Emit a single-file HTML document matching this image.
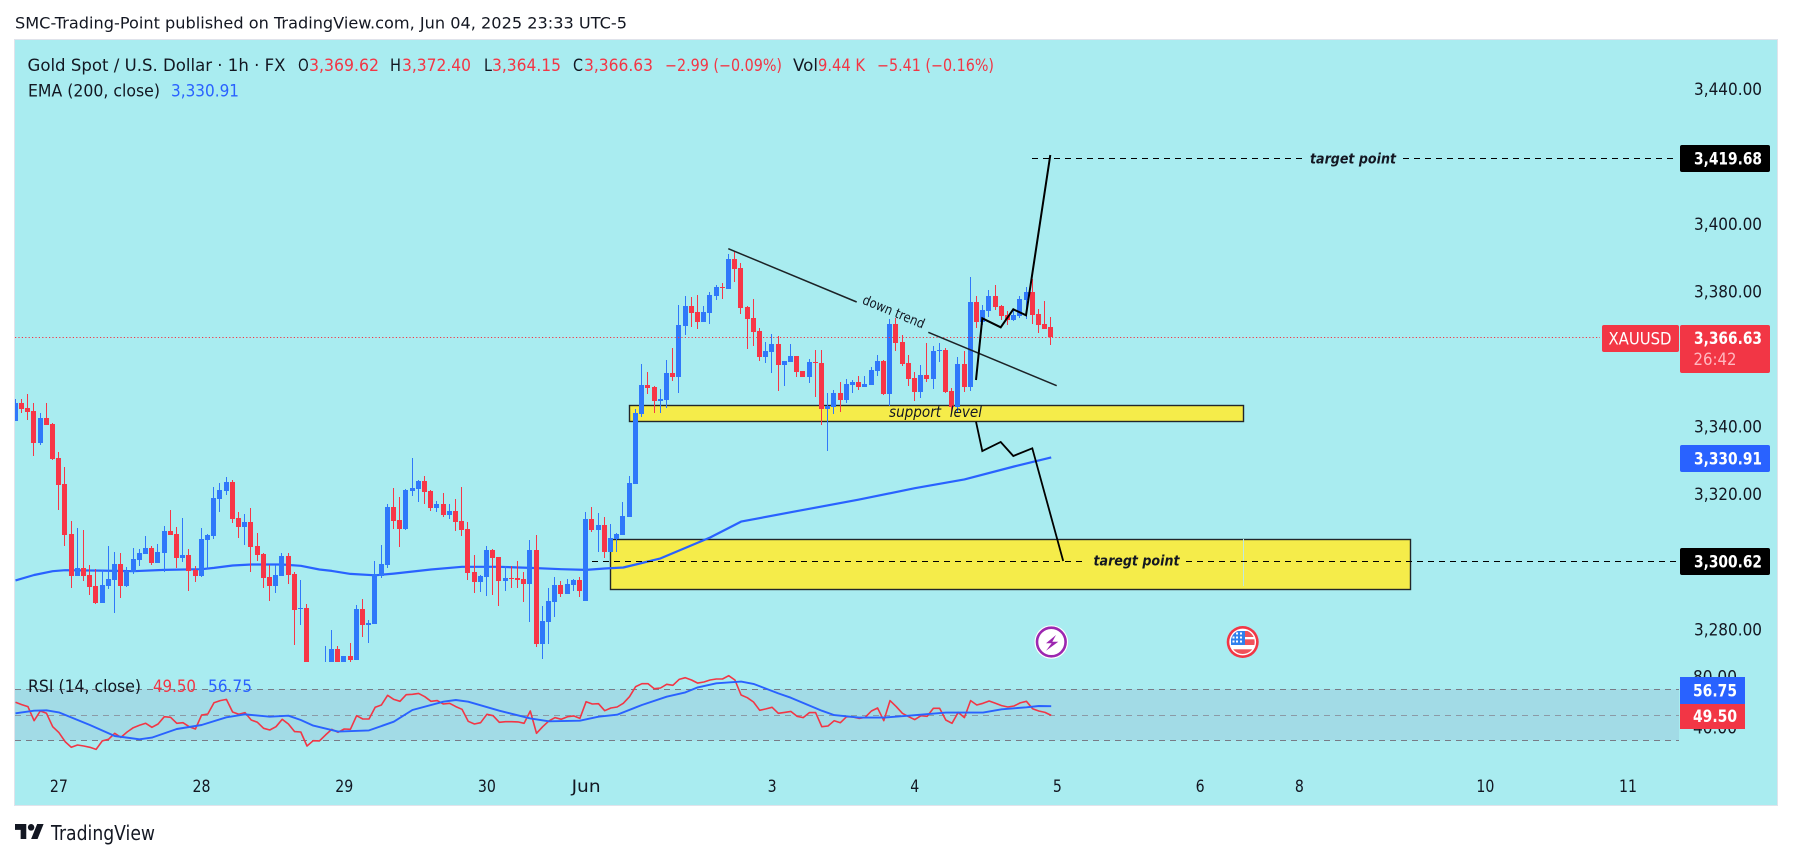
<!DOCTYPE html>
<html lang="en">
<head>
<meta charset="utf-8">
<title>XAUUSD 1h chart</title>
<style>
html,body{margin:0;padding:0;background:#fff;width:1793px;height:859px;overflow:hidden}
svg{display:block}
text{font-family:"DejaVu Sans","Liberation Sans",sans-serif;fill:#131722}
</style>
</head>
<body>
<svg id="root" width="1793" height="859" viewBox="0 0 1793 859">
  <defs>
    <clipPath id="mainClip"><rect x="15" y="40" width="1662" height="622"/></clipPath>
    <clipPath id="rsiClip"><rect x="15" y="662" width="1662" height="143"/></clipPath>
    <clipPath id="flagClip"><circle cx="1242.7" cy="642" r="12"/></clipPath>
  </defs>
  <rect x="0" y="0" width="1793" height="859" fill="#ffffff"/>
  <text x="15" y="28.5" font-size="16" textLength="612" lengthAdjust="spacingAndGlyphs">SMC-Trading-Point published on TradingView.com, Jun 04, 2025 23:33 UTC-5</text>
  <rect x="14.5" y="39.5" width="1763" height="766" fill="#a9ecf0" stroke="#e0e3eb" stroke-width="1"/>

  <rect x="15" y="689.3" width="1664" height="51" fill="#a2dbe6"/>
  <line x1="15" x2="1679" y1="689.5" y2="689.5" stroke="#787b86" stroke-dasharray="6 5"/>
  <line x1="15" x2="1679" y1="715.5" y2="715.5" stroke="#8b9aa6" stroke-dasharray="6 5"/>
  <line x1="15" x2="1679" y1="740.5" y2="740.5" stroke="#787b86" stroke-dasharray="6 5"/>

  <rect x="629.5" y="405.5" width="614" height="16" fill="#f5ec4a" stroke="#22262a" stroke-width="1.4"/>
  <rect x="610.5" y="539.5" width="800" height="50" fill="#f5ec4a" stroke="#22262a" stroke-width="1.4"/>
  <line x1="1243.5" x2="1243.5" y1="539" y2="586" stroke="#bfe9e0" stroke-width="1"/>

  <g id="emaLayer" clip-path="url(#mainClip)"></g>
  <g id="candleLayer" clip-path="url(#mainClip)"></g>
  <g id="priceLineLayer"></g>

  <g>
    <line x1="728.3" y1="248.7" x2="856.7" y2="302" stroke="#1c2226" stroke-width="1.5"/>
    <line x1="928.3" y1="332.3" x2="1056.7" y2="385.7" stroke="#1c2226" stroke-width="1.5"/>
    <text transform="translate(892,316) rotate(22.6)" text-anchor="middle" font-size="13.5" textLength="66" lengthAdjust="spacingAndGlyphs">down trend</text>
    <polyline points="976,380 982.3,318.3 1000.7,327.3 1013.3,309.3 1026,315.3 1050.3,155" fill="none" stroke="#000" stroke-width="2"/>
    <polyline points="976,421.7 982.3,451 1000.7,442 1013.3,456 1032.3,448.3 1063.2,561" fill="none" stroke="#000" stroke-width="1.8"/>
    <line x1="1032" x2="1302" y1="158.5" y2="158.5" stroke="#000" stroke-dasharray="6 5"/>
    <text x="1310" y="163.5" font-size="14.5" font-style="italic" font-weight="bold" textLength="86" lengthAdjust="spacingAndGlyphs">target point</text>
    <line x1="1403" x2="1675" y1="158.5" y2="158.5" stroke="#000" stroke-dasharray="6 5"/>
    <line x1="592" x2="1087" y1="561.5" y2="561.5" stroke="#000" stroke-dasharray="6 5"/>
    <text x="1093.5" y="565.5" font-size="14.5" font-style="italic" font-weight="bold" textLength="86" lengthAdjust="spacingAndGlyphs">taregt point</text>
    <line x1="1186" x2="1677" y1="561.5" y2="561.5" stroke="#000" stroke-dasharray="6 5"/>
    <text x="889" y="417" font-size="15" font-style="italic" textLength="93" lengthAdjust="spacingAndGlyphs" xml:space="preserve">support  level</text>
  </g>

  <g>
    <circle cx="1051.3" cy="642" r="16.8" fill="#ffffff"/>
    <circle cx="1051.3" cy="642" r="14.3" fill="#fff" stroke="#9c27b0" stroke-width="2.6"/>
    <polygon points="1056,635 1046,643.3 1051.6,643.3 1046,650.7 1058.3,641.7 1052.3,641.7" fill="#9c27b0"/>
  </g>
  <g>
    <circle cx="1242.7" cy="642" r="16" fill="#f23645"/>
    <circle cx="1242.7" cy="642" r="13.4" fill="#fff"/>
    <g clip-path="url(#flagClip)">
      <rect x="1231" y="631" width="24" height="6" fill="#f0525a"/>
      <rect x="1231" y="639.3" width="24" height="5.7" fill="#f0525a"/>
      <rect x="1231" y="649.3" width="24" height="5" fill="#f0525a"/>
      <rect x="1231" y="631" width="14" height="14" fill="#2f80ed"/>
      <rect x="1236" y="632.5" width="2" height="2" fill="#fff"/><rect x="1240" y="632.5" width="2" height="2" fill="#fff"/>
      <rect x="1232.5" y="636.5" width="2" height="2" fill="#fff"/><rect x="1236" y="636.5" width="2" height="2" fill="#fff"/>
      <rect x="1240" y="636.5" width="2" height="2" fill="#fff"/><rect x="1232.5" y="640.5" width="2" height="2" fill="#fff"/>
      <rect x="1236" y="640.5" width="2" height="2" fill="#fff"/><rect x="1240" y="640.5" width="2" height="2" fill="#fff"/>
    </g>
  </g>

  <g id="rsiLayer" clip-path="url(#rsiClip)"></g>
  <g id="yAxisLayer"></g>
  <g id="xAxisLayer"></g>

  <g>
    <text x="27.5" y="71" font-size="16.5" textLength="258" lengthAdjust="spacingAndGlyphs">Gold Spot / U.S. Dollar · 1h · FX</text>
    <text x="298" y="71" font-size="16.5" textLength="10.8" lengthAdjust="spacingAndGlyphs">O</text>
    <text x="309" y="71" font-size="16.5" textLength="70" lengthAdjust="spacingAndGlyphs" style="fill:#f23645">3,369.62</text>
    <text x="390" y="71" font-size="16.5" textLength="11" lengthAdjust="spacingAndGlyphs">H</text>
    <text x="402" y="71" font-size="16.5" textLength="69" lengthAdjust="spacingAndGlyphs" style="fill:#f23645">3,372.40</text>
    <text x="484" y="71" font-size="16.5" textLength="8" lengthAdjust="spacingAndGlyphs">L</text>
    <text x="492" y="71" font-size="16.5" textLength="69" lengthAdjust="spacingAndGlyphs" style="fill:#f23645">3,364.15</text>
    <text x="573" y="71" font-size="16.5" textLength="10" lengthAdjust="spacingAndGlyphs">C</text>
    <text x="584" y="71" font-size="16.5" textLength="69" lengthAdjust="spacingAndGlyphs" style="fill:#f23645">3,366.63</text>
    <text x="665" y="71" font-size="16.5" textLength="117" lengthAdjust="spacingAndGlyphs" style="fill:#f23645">−2.99 (−0.09%)</text>
    <text x="793" y="71" font-size="16.5" textLength="25" lengthAdjust="spacingAndGlyphs">Vol</text>
    <text x="818" y="71" font-size="16.5" textLength="47" lengthAdjust="spacingAndGlyphs" style="fill:#f23645">9.44 K</text>
    <text x="877" y="71" font-size="16.5" textLength="117" lengthAdjust="spacingAndGlyphs" style="fill:#f23645">−5.41 (−0.16%)</text>
    <text x="28" y="96.5" font-size="16.5" textLength="132" lengthAdjust="spacingAndGlyphs">EMA (200, close)</text>
    <text x="171" y="96.5" font-size="16.5" textLength="68" lengthAdjust="spacingAndGlyphs" style="fill:#2962ff">3,330.91</text>
    <text x="28" y="692" font-size="16.5" textLength="113" lengthAdjust="spacingAndGlyphs">RSI (14, close)</text>
    <text x="153" y="692" font-size="16.5" textLength="43" lengthAdjust="spacingAndGlyphs" style="fill:#f23645">49.50</text>
    <text x="208" y="692" font-size="16.5" textLength="44" lengthAdjust="spacingAndGlyphs" style="fill:#2962ff">56.75</text>
  </g>

  <g>
    <rect x="1680" y="145" width="90" height="27" rx="2" fill="#000"/>
    <text x="1694" y="164.3" font-size="16.5" font-weight="600" textLength="68" lengthAdjust="spacingAndGlyphs" style="fill:#fff">3,419.68</text>
    <rect x="1602" y="325" width="77" height="27" rx="2" fill="#f23645"/>
    <text x="1608.5" y="344.3" font-size="16.5" textLength="63" lengthAdjust="spacingAndGlyphs" style="fill:#fff">XAUUSD</text>
    <rect x="1680" y="325" width="90" height="48" rx="2" fill="#f23645"/>
    <text x="1694" y="343.8" font-size="16.5" font-weight="600" textLength="68" lengthAdjust="spacingAndGlyphs" style="fill:#fff">3,366.63</text>
    <text x="1693.5" y="365" font-size="16.5" textLength="43" lengthAdjust="spacingAndGlyphs" style="fill:#ffb8c0">26:42</text>
    <rect x="1680" y="445" width="90" height="27" rx="2" fill="#2962ff"/>
    <text x="1694" y="464.3" font-size="16.5" font-weight="600" textLength="68" lengthAdjust="spacingAndGlyphs" style="fill:#fff">3,330.91</text>
    <rect x="1680" y="548" width="90" height="27" rx="2" fill="#000"/>
    <text x="1694" y="567.3" font-size="16.5" font-weight="600" textLength="68" lengthAdjust="spacingAndGlyphs" style="fill:#fff">3,300.62</text>
    <rect x="1680" y="677" width="65" height="27" fill="#2962ff"/>
    <text x="1693" y="696.3" font-size="16.5" font-weight="600" textLength="44" lengthAdjust="spacingAndGlyphs" style="fill:#fff">56.75</text>
    <rect x="1680" y="704" width="65" height="25" fill="#f23645"/>
    <text x="1693" y="721.8" font-size="16.5" font-weight="600" textLength="44" lengthAdjust="spacingAndGlyphs" style="fill:#fff">49.50</text>
  </g>

  <g>
    <svg x="15" y="824" width="29" height="15" viewBox="0 4 36 18" preserveAspectRatio="none">
      <path d="M14 22H7V11H0V4h14v18zM28 22h-8l7.5-18h8L28 22z" fill="#131722"/>
      <circle cx="20" cy="8" r="4" fill="#131722"/>
    </svg>
    <text x="51" y="840" font-size="20.5" textLength="104" lengthAdjust="spacingAndGlyphs">TradingView</text>
  </g>
</svg>

<script>
const opens = [3341.7,3347.0,3345.5,3344.6,3335.1,3342.5,3340.8,3330.7,3323.0,3308.2,
3295.8,3298.1,3296.1,3292.8,3287.8,3292.8,3294.6,3299.3,3292.8,3297.0,
3300.5,3302.3,3304.1,3299.6,3302.6,3309.1,3308.2,3301.1,3302.0,3297.5,
3295.8,3306.4,3307.6,3318.6,3320.9,3323.6,3313.0,3310.3,3311.8,3304.6,
3302.3,3295.5,3292.8,3295.8,3301.7,3296.4,3286.0,3286.3,3265,3258,
3260,3266,3274.2,3268,3272.1,3270.9,3286.0,3281.3,3281.6,3295.8,
3299.0,3316.2,3312.3,3309.7,3320.9,3321.5,3323.9,3320.9,3315.9,3317.1,
3313.8,3315.0,3312.0,3309.7,3297.0,3294.0,3295.5,3303.5,3301.4,3294.3,
3295.2,3295.2,3294.9,3293.4,3303.5,3275.6,3282.1,3288.1,3293.1,3290.4,
3293.1,3294.6,3288.4,3312.6,3309.4,3310.9,3302.9,3306.7,3307.9,3313.2,
3323.0,3343.7,3352.3,3351.7,3347.6,3347.9,3355.9,3354.7,3369.8,3375.7,
3373.9,3371.0,3373.6,3378.7,3381.3,3380.7,3389.6,3387.0,3375.4,3372.1,
3368.3,3360.6,3362.1,3364.4,3358.2,3359.1,3360.9,3356.5,3354.7,3359.1,
3358.8,3345.2,3345.8,3349.9,3347.9,3352.3,3353.2,3351.7,3352.3,3356.5,
3359.4,3349.6,3370.4,3365.1,3358.9,3354.4,3350.3,3355.3,3354.1,3362.6,
3362.7,3350.6,3345.9,3358.6,3351.8,3376.9,3371.0,3374.3,3378.7,3375.8,
3373.1,3371.6,3372.8,3377.5,3379.9,3373.4,3370.4,3369.62];
const highs = [3348.2,3348.2,3349.7,3347.0,3344.0,3347.0,3341.1,3332.5,3328.0,3312.0,
3310.0,3309.4,3299.0,3297.8,3297.5,3304.6,3302.9,3302.6,3298.4,3304.1,
3303.8,3307.6,3304.6,3305.2,3310.6,3315.3,3310.3,3312.9,3303.8,3298.7,
3310.0,3308.2,3322.1,3323.3,3325.1,3324.2,3314.7,3314.1,3315.9,3308.5,
3302.6,3299.0,3299.0,3302.6,3302.6,3297.0,3294.6,3287.5,3266,3266,
3275.0,3279.8,3275.0,3272.1,3275.9,3287.2,3289.0,3282.7,3300.2,3304.9,
3317.1,3321.8,3319.2,3321.5,3330.7,3324.2,3325.4,3321.2,3318.0,3320.3,
3317.1,3318.6,3322.1,3311.8,3302.0,3296.1,3304.6,3303.8,3301.4,3298.7,
3298.7,3300.2,3297.0,3306.4,3307.9,3286.9,3292.2,3295.5,3294.3,3294.9,
3294.9,3295.5,3314.7,3316.2,3314.4,3313.2,3311.2,3308.5,3317.7,3325.4,
3345.2,3358.5,3356.2,3352.0,3351.1,3359.7,3363.3,3376.0,3378.7,3378.4,
3379.0,3375.7,3379.8,3381.9,3382.5,3391.1,3392.0,3388.4,3375.7,3377.8,
3369.2,3365.0,3367.4,3366.8,3359.4,3364.4,3360.9,3356.5,3360.0,3362.7,
3362.7,3349.9,3350.8,3353.2,3354.1,3353.8,3355.0,3355.0,3357.6,3361.2,
3359.7,3371.8,3372.1,3367.2,3361.2,3356.2,3358.3,3364.8,3363.9,3364.8,
3363.3,3351.5,3360.7,3362.4,3384.3,3378.7,3376.1,3380.5,3382.0,3376.1,
3374.3,3374.9,3378.7,3381.4,3383.7,3374.9,3377.2,3372.40];
const lows = [3341.7,3344.0,3342.0,3331.3,3334.5,3340.5,3330.1,3315.3,3304.6,3292.2,
3295.8,3294.3,3290.1,3287.5,3287.8,3291.9,3284.8,3289.3,3292.5,3296.4,
3298.7,3302.3,3299.0,3299.6,3297.0,3307.9,3298.1,3299.9,3291.3,3294.0,
3295.5,3297.8,3306.7,3314.7,3319.7,3311.5,3307.0,3304.9,3297.0,3300.2,
3292.2,3288.4,3290.7,3295.8,3293.4,3275.3,3281.3,3262,3260,3256,
3258,3264,3264,3266,3270.3,3270.9,3277.7,3275.9,3281.6,3295.2,
3298.1,3309.7,3304.4,3309.4,3319.5,3317.7,3317.1,3315.0,3314.7,3313.2,
3312.6,3309.1,3307.6,3294.6,3290.7,3291.0,3289.8,3290.1,3286.9,3291.3,
3292.2,3292.2,3288.1,3282.1,3274.7,3271.2,3275.6,3283.6,3289.5,3290.4,
3291.3,3289.5,3288.4,3308.8,3302.9,3301.1,3302.9,3302.9,3307.9,3313.2,
3323.0,3342.8,3349.6,3344.0,3344.0,3345.5,3353.5,3349.9,3367.1,3369.5,
3368.9,3371.0,3370.4,3377.5,3377.8,3380.7,3382.8,3373.3,3363.0,3363.9,
3359.4,3358.8,3355.9,3350.5,3352.0,3359.1,3354.7,3354.7,3352.9,3348.8,
3340.5,3332.8,3343.7,3344.3,3347.0,3349.9,3350.8,3351.7,3352.3,3355.0,
3349.3,3346.1,3362.4,3358.0,3352.1,3347.6,3348.5,3353.3,3351.2,3359.2,
3350.0,3344.4,3344.4,3350.3,3350.6,3369.2,3370.1,3372.5,3374.6,3371.6,
3370.1,3371.3,3372.2,3371.9,3370.4,3367.8,3369.0,3364.15];
const closes = [3347.0,3345.2,3344.3,3335.1,3342.5,3340.5,3330.4,3322.7,3307.9,3295.8,
3298.1,3295.8,3292.5,3287.8,3293.1,3294.9,3299.3,3292.8,3297.2,3300.8,
3302.6,3304.1,3299.6,3302.9,3309.1,3307.9,3301.1,3302.0,3297.2,3295.8,
3306.7,3307.9,3318.9,3321.2,3323.6,3312.6,3310.3,3311.8,3304.4,3302.0,
3295.2,3292.8,3296.1,3301.7,3296.1,3285.7,3286.3,3265,3262,3264,
3266,3274.2,3266,3272.1,3270.9,3286.0,3281.3,3281.8,3296.4,3299.3,
3316.2,3312.0,3309.7,3321.2,3321.8,3323.9,3320.6,3315.9,3317.1,3313.8,
3315.0,3311.8,3309.4,3296.7,3294.0,3295.8,3303.5,3301.1,3294.3,3295.2,
3294.9,3294.6,3293.4,3303.5,3275.6,3282.4,3288.4,3293.1,3290.4,3293.4,
3294.6,3291.3,3312.6,3309.4,3310.9,3302.9,3307.0,3308.2,3313.5,3323.3,
3344.0,3352.3,3351.4,3347.6,3348.2,3355.9,3354.7,3370.1,3375.7,3373.6,
3371.0,3373.9,3379.0,3381.3,3381.0,3389.6,3386.7,3375.1,3371.8,3368.0,
3360.6,3362.4,3364.4,3358.2,3359.4,3360.9,3356.2,3354.7,3359.1,3358.8,
3345.2,3346.1,3349.9,3347.9,3352.6,3353.2,3351.7,3352.6,3356.7,3359.4,
3349.6,3370.4,3364.7,3358.6,3354.1,3350.3,3355.3,3354.1,3362.4,3362.7,
3350.3,3345.9,3358.6,3351.8,3376.9,3371.0,3374.6,3378.7,3375.5,3372.8,
3371.6,3373.1,3377.8,3379.9,3373.1,3370.1,3369.0,3366.63];

const emaBars = [0,3,6,8,14,19,24,30,32,35,38,43,46,49,51,54,58,61,67,72,78,83,88,92,95,98,100,104,112,117,126,136,145,153,161,167];
const emaValues = [3294.5,3296.1,3297.2,3297.5,3297.4,3297.2,3297.6,3297.8,3298.2,3298.9,3299.2,3299.2,3298.8,3297.7,3297.3,3296.4,3296.0,3296.5,3297.7,3298.5,3298.5,3298.2,3297.8,3297.6,3298.0,3298.3,3299.2,3301.0,3307.2,3311.9,3315.0,3318.4,3321.8,3324.4,3328.2,3330.91];

const rsiValues = [59.8,58.0,56.4,45.4,53.0,51.2,40.7,36.0,29.0,24.5,
26.3,25.5,24.5,22.9,29.5,30.8,35.5,32.3,36.5,39.9,
41.8,43.3,40.2,42.8,48.5,48.0,43.3,43.8,40.7,38.9,
49.8,50.6,59.5,61.1,62.1,52.2,50.4,51.7,45.9,44.1,
39.4,38.1,40.7,46.5,42.8,36.8,36.5,25.5,29.7,29.5,
34.2,38.6,36.3,38.9,38.6,49.3,46.7,46.7,55.9,57.7,
65.3,62.1,60.6,65.8,66.1,66.8,64.2,60.6,61.1,58.5,
59.0,56.4,54.3,44.9,42.8,43.8,50.4,49.3,44.1,44.6,
44.6,44.4,43.3,53.0,35.5,40.7,45.2,47.8,46.5,48.5,
49.1,47.2,60.3,58.5,58.7,53.2,55.3,56.1,59.0,64.2,
72.1,74.4,74.4,70.5,71.0,73.9,73.1,77.8,79.1,77.3,
74.9,75.7,77.3,78.1,78.1,80.7,77.3,65.5,63.4,60.0,
53.5,54.6,55.9,51.2,51.9,52.7,48.8,47.8,51.7,51.7,
40.7,41.2,45.4,43.8,48.5,48.3,47.2,48.0,53.0,55.3,
45.4,61.1,56.4,51.2,48.5,46.2,49.3,48.8,55.1,55.1,
45.9,43.3,51.9,47.8,61.1,57.7,59.0,60.8,59.0,57.2,
56.1,56.9,59.3,60.6,54.8,53.0,51.9,49.50];

const rsiMaBars = [0,3,5,7,12,16,20,22,26,30,34,37,41,44,46,48,52,57,61,64,69,71,73,78,83,86,91,94,97,101,105,108,110,113,117,119,123,125,130,132,136,140,144,150,156,159,163,165,167];
const rsiMaValues = [51.2,53.2,53.5,51.9,42.0,33.4,30.8,32.1,38.9,42.0,48.0,50.4,48.5,49.3,45.9,41.5,36.8,37.8,44.6,53.8,60.3,61.6,60.3,53.2,47.2,44.9,45.4,48.5,50.1,57.7,64.2,67.6,71.5,74.7,76.0,74.2,66.8,63.4,53.2,49.8,47.8,47.8,49.3,51.7,51.7,54.3,55.9,56.9,56.75];

const priceTicks = [3440,3400,3380,3340,3320,3280];
const rsiTicks = [80,40];
const timeLabels = ["27","28","29","30","Jun","3","4","5","6","8","10","11"];
const timeBars = [7,30,53,76,92,122,145,168,191,207,237,260];

const NS = "http://www.w3.org/2000/svg";
function barX(i){ return 15.5 + 6.202 * i; }
function priceY(p){ return 89 + (3440 - p) * 3.377; }
function rsiY(v){ return 714.8 + (50 - v) * 1.275; }
function make(tag, attrs, parent){
  const el = document.createElementNS(NS, tag);
  for (const k in attrs) el.setAttribute(k, attrs[k]);
  parent.appendChild(el);
  return el;
}
function fmt(p){
  const s = p.toFixed(2);
  return s.length > 6 ? s.slice(0, s.length - 6) + "," + s.slice(s.length - 6) : s;
}

const candleLayer = document.getElementById("candleLayer");
opens.forEach(function(o, i){
  const c = closes[i];
  const up = c >= o;
  const col = up ? "#2f78fa" : "#f73647";
  const left = Math.floor(barX(i) - 0.3);
  const top = Math.round(priceY(Math.max(o, c)));
  const bot = Math.round(priceY(Math.min(o, c)));
  const hi = Math.round(priceY(highs[i]));
  const lo = Math.round(priceY(lows[i]));
  const g = make("g", {}, candleLayer);
  
  
  const wick = make("rect", {x:left, y:hi, width:1, height:Math.max(1, lo - hi), fill:col, "shape-rendering":"crispEdges"}, g);
  
  
  const body = make("rect", {x:left - 2, y:top, width:5, height:Math.max(1, bot - top), fill:col, "shape-rendering":"crispEdges"}, g);
  
  
});

const emaLine = make("polyline", {
  points: emaBars.map(function(b, k){ return barX(b).toFixed(1) + "," + priceY(emaValues[k]).toFixed(1); }).join(" "),
  fill:"none", stroke:"#2962ff", "stroke-width":2.2, "stroke-linejoin":"round"
}, document.getElementById("emaLayer"));



const lastY = Math.round(priceY(closes[closes.length - 1])) + 0.5;
const priceLine = make("line", {x1:15, x2:1600, y1:lastY, y2:lastY, stroke:"#f23645", "stroke-dasharray":"1.2 2.2", "stroke-width":1}, document.getElementById("priceLineLayer"));



const rsiLayer = document.getElementById("rsiLayer");
const rsiLine = make("polyline", {
  points: rsiValues.map(function(v, i){ return barX(i).toFixed(1) + "," + rsiY(v).toFixed(1); }).join(" "),
  fill:"none", stroke:"#f23645", "stroke-width":1.6, "stroke-linejoin":"round"
}, rsiLayer);


const rsiMaLine = make("polyline", {
  points: rsiMaBars.map(function(b, k){ return barX(b).toFixed(1) + "," + rsiY(rsiMaValues[k]).toFixed(1); }).join(" "),
  fill:"none", stroke:"#2962ff", "stroke-width":1.9, "stroke-linejoin":"round"
}, rsiLayer);



const yAxis = document.getElementById("yAxisLayer");
priceTicks.forEach(function(p){
  const t = make("text", {x:1694, y:priceY(p) + 6, "font-size":16.5, textLength:68, lengthAdjust:"spacingAndGlyphs"}, yAxis);
  
  
  t.textContent = fmt(p);
});
rsiTicks.forEach(function(v){
  const t = make("text", {x:1693, y:rsiY(v) + 6, "font-size":16.5, textLength:44, lengthAdjust:"spacingAndGlyphs"}, yAxis);
  
  
  t.textContent = v.toFixed(2);
});

const xAxis = document.getElementById("xAxisLayer");
timeLabels.forEach(function(label, k){
  const width = label === "Jun" ? 29 : label.length * 9;
  const t = make("text", {x:barX(timeBars[k]), y:792, "font-size":16.5, "text-anchor":"middle", textLength:width, lengthAdjust:"spacingAndGlyphs"}, xAxis);
  
  
  t.textContent = label;
});
</script>
</body>
</html>
